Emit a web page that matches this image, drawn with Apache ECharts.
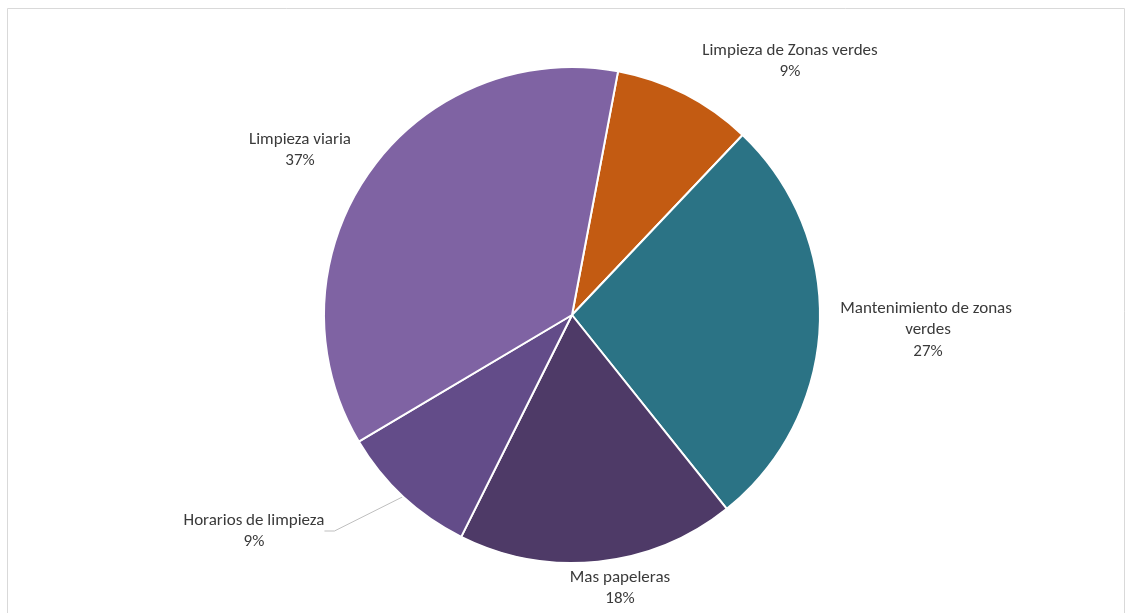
<!DOCTYPE html>
<html>
<head>
<meta charset="utf-8">
<script src="https://cdn.jsdelivr.net/npm/echarts@6/dist/echarts.min.js"></script>
<style>
  html, body { margin: 0; padding: 0; background: #ffffff; }
  #chart { width: 1131px; height: 613px; }
</style>
</head>
<body>
<div id="chart"></div>
<script>
// ---- data ----
const categories = [
  'Limpieza de Zonas verdes',
  'Mantenimiento de zonas verdes',
  'Mas papeleras',
  'Horarios de limpieza',
  'Limpieza viaria'
];
const values = [9.1, 27.2, 18.1, 9.1, 36.5];

// ---- styling ----
const colors = ['#C35B12', '#2B7385', '#4E3A67', '#634C89', '#7F63A3'];
const labelAnchors = [[790, 61], [928, 330], [620, 588], [254, 531], [300, 150]];
const FONT = 'Carlito, Lato, "Liberation Sans", sans-serif';

const chart = echarts.init(document.getElementById('chart'), null, { renderer: 'canvas' });

const data = categories.map((name, i) => {
  const item = { name: name, value: values[i], itemStyle: { color: colors[i] } };
  if (i === 1) item.label = { width: 200, overflow: 'break' };
  if (i === 3) item.labelLine = { show: true };
  return item;
});

chart.setOption({
  backgroundColor: '#ffffff',
  animation: false,
  graphic: [{
    type: 'rect',
    shape: { x: 7.5, y: 8.5, width: 1117, height: 620 },
    style: { fill: 'none', stroke: '#d9d9d9', lineWidth: 1 },
    silent: true
  }],
  series: [{
    type: 'pie',
    center: [572, 315],
    radius: 248,
    startAngle: 79.3,
    clockwise: true,
    percentPrecision: 0,
    avoidLabelOverlap: false,
    data: data,
    itemStyle: { borderColor: '#ffffff', borderWidth: 2 },
    label: {
      show: true,
      position: 'outside',
      formatter: '{b}\n{d}%',
      fontFamily: FONT,
      fontSize: 17,
      lineHeight: 21.5,
      color: '#3a3a3a',
      align: 'center'
    },
    labelLine: {
      show: false,
      length: 10,
      length2: 10,
      lineStyle: { color: '#bfbfbf', width: 1 }
    },
    labelLayout: function (params) {
      const p = labelAnchors[params.dataIndex];
      return { x: p[0], y: p[1], align: 'center', verticalAlign: 'middle' };
    }
  }]
});
</script>
</body>
</html>
